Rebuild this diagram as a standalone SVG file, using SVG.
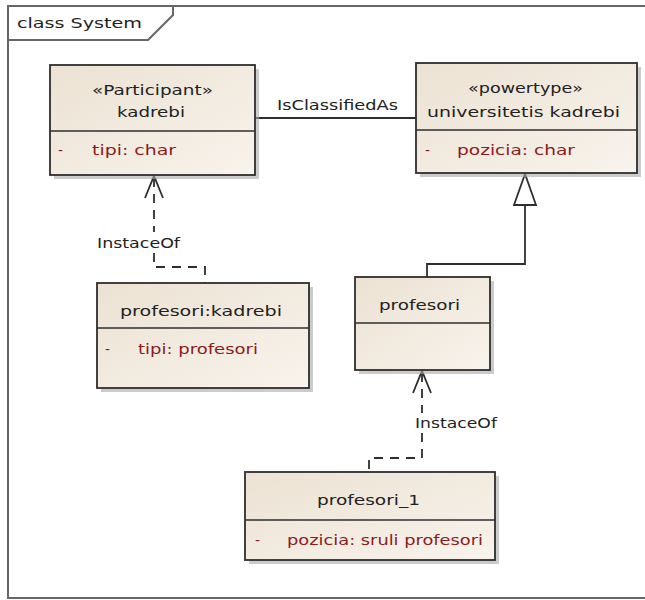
<svg xmlns="http://www.w3.org/2000/svg" width="645" height="600" viewBox="0 0 645 600">
<defs>
<linearGradient id="fill" x1="0" y1="0" x2="1" y2="1">
<stop offset="0" stop-color="#ece2d3"/>
<stop offset="1" stop-color="#f8f3ec"/>
</linearGradient>
<style>
.box{fill:url(#fill);stroke:#2e2e2e;stroke-width:1.8}
.shadow{fill:#a9a9a9;opacity:0.6}
.div{stroke:#2e2e2e;stroke-width:1.5}
.t{font-family:"DejaVu Sans",Verdana,sans-serif;font-size:14px;fill:#222}
.a{font-family:"DejaVu Sans",Verdana,sans-serif;font-size:14px;fill:#8b1c1c}
.line{fill:none;stroke:#2e2e2e;stroke-width:1.8}
.dash{fill:none;stroke:#2e2e2e;stroke-width:1.8;stroke-dasharray:9,7}
.frame{fill:none;stroke:#666;stroke-width:2}
</style>
</defs>
<rect width="645" height="600" fill="#fff"/>
<g id="frame">
<path class="frame" d="M660,6 H8 V598 H660"/>
<path class="frame" d="M8,40 H148 L173,15 V6"/>
<text class="t" x="17" y="28" textLength="125" lengthAdjust="spacingAndGlyphs">class System</text>
</g>
<g id="connectors">
<line class="line" x1="255" y1="118" x2="416" y2="118"/>
<text class="t" x="277" y="110" textLength="121" lengthAdjust="spacingAndGlyphs">IsClassifiedAs</text>
<path class="dash" d="M154,178 V232"/>
<path class="dash" d="M154,253 V267 H205 V283"/>
<path class="line" d="M145,198 L154,176 L163,198"/>
<text class="t" x="97" y="248" textLength="83" lengthAdjust="spacingAndGlyphs">InstaceOf</text>
<path class="line" d="M427,277 V264 H525 V205"/>
<polygon points="525,174 514,205 536,205" fill="#fff" stroke="#2e2e2e" stroke-width="1.8"/>
<path class="dash" d="M422,373 V413"/>
<path class="dash" d="M422,433 V458 H369 V472"/>
<path class="line" d="M413,393 L422,371 L431,393"/>
<text class="t" x="415" y="428" textLength="82" lengthAdjust="spacingAndGlyphs">InstaceOf</text>
</g>
<g id="kadrebi">
<rect class="shadow" x="54" y="69" width="205" height="110"/>
<rect class="box" x="50" y="65" width="205" height="110"/>
<line class="div" x1="50" y1="131" x2="255" y2="131"/>
<text class="t" x="92" y="95" textLength="121" lengthAdjust="spacingAndGlyphs">«Participant»</text>
<text class="t" x="117" y="117" textLength="68" lengthAdjust="spacingAndGlyphs">kadrebi</text>
<text class="a" x="58" y="155">-</text>
<text class="a" x="92" y="155" textLength="84" lengthAdjust="spacingAndGlyphs">tipi:  char</text>
</g>
<g id="universitetis-kadrebi">
<rect class="shadow" x="420" y="67" width="221" height="110"/>
<rect class="box" x="416" y="63" width="221" height="110"/>
<line class="div" x1="416" y1="130" x2="637" y2="130"/>
<text class="t" x="468" y="93" textLength="115" lengthAdjust="spacingAndGlyphs">«powertype»</text>
<text class="t" x="427" y="117" textLength="193" lengthAdjust="spacingAndGlyphs">universitetis kadrebi</text>
<text class="a" x="425" y="155">-</text>
<text class="a" x="457" y="155" textLength="118" lengthAdjust="spacingAndGlyphs">pozicia:  char</text>
</g>
<g id="profesori-kadrebi">
<rect class="shadow" x="101" y="287" width="212" height="105"/>
<rect class="box" x="97" y="283" width="212" height="105"/>
<line class="div" x1="97" y1="328" x2="309" y2="328"/>
<text class="t" x="120" y="316" textLength="162" lengthAdjust="spacingAndGlyphs">profesori:kadrebi</text>
<text class="a" x="105" y="354">-</text>
<text class="a" x="138" y="354" textLength="120" lengthAdjust="spacingAndGlyphs">tipi:  profesori</text>
</g>
<g id="profesori">
<rect class="shadow" x="359" y="281" width="135" height="93"/>
<rect class="box" x="355" y="277" width="135" height="93"/>
<line class="div" x1="355" y1="323" x2="490" y2="323"/>
<text class="t" x="379" y="310" textLength="81" lengthAdjust="spacingAndGlyphs">profesori</text>
</g>
<g id="profesori_1">
<rect class="shadow" x="249" y="476" width="250" height="88"/>
<rect class="box" x="245" y="472" width="250" height="88"/>
<line class="div" x1="245" y1="520" x2="495" y2="520"/>
<text class="t" x="317" y="505" textLength="103" lengthAdjust="spacingAndGlyphs">profesori_1</text>
<text class="a" x="255" y="545">-</text>
<text class="a" x="287" y="545" textLength="196" lengthAdjust="spacingAndGlyphs">pozicia:  sruli profesori</text>
</g>
</svg>
